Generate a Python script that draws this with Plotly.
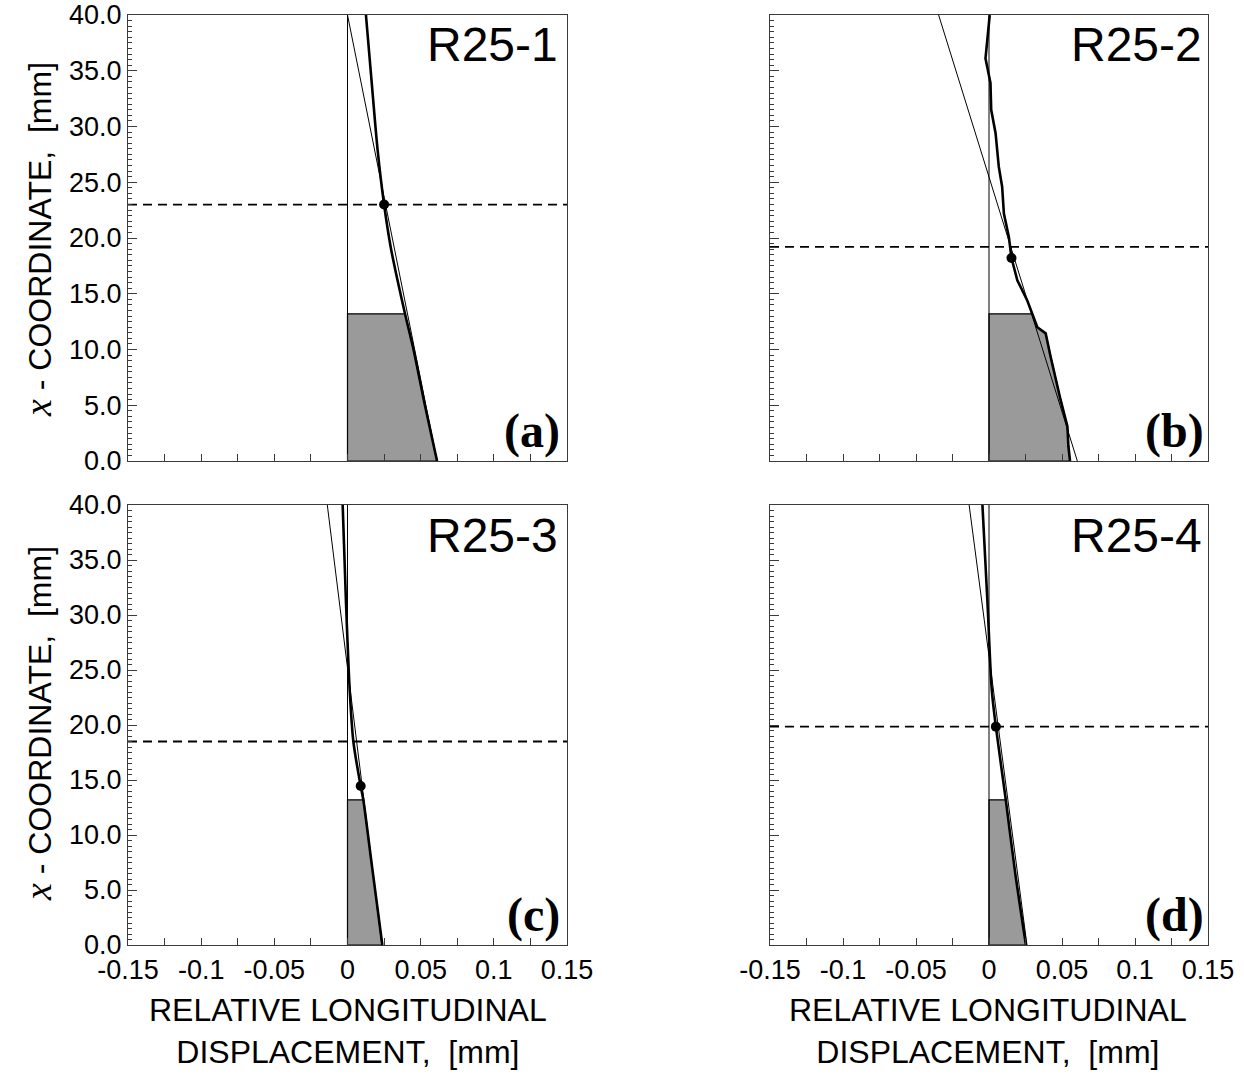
import plotly.graph_objects as go

W, H = 1244, 1075

# ---------------- data ----------------
panel_names = ["R25-1", "R25-2", "R25-3", "R25-4"]
panel_tags = ["(a)", "(b)", "(c)", "(d)"]

# measured relative displacement curves (x = displacement [mm], y = coordinate [mm])
a_curve_x = [0.0612, 0.0529, 0.0451, 0.0393, 0.0337, 0.0295, 0.0250, 0.0205, 0.0165, 0.0126]
a_curve_y = [0.0, 5.0, 10.0, 13.2, 16.5, 19.2, 23.0, 28.0, 34.0, 40.0]
b_curve_x = [0.0555, 0.0544, 0.0537, 0.0490, 0.0422, 0.0388, 0.0331, 0.0297, 0.0262, 0.0194,
             0.0154, 0.0136, 0.0102, 0.0090, 0.0067, 0.0045, 0.0015, 0.0010, -0.0024, 0.0005]
b_curve_y = [0.0, 1.3, 3.1, 5.5, 9.35, 11.45, 12.0, 13.1, 14.4, 16.2,
             18.2, 20.1, 22.2, 24.6, 26.4, 29.4, 31.5, 33.9, 36.1, 40.0]
c_curve_x = [0.0238, 0.0165, 0.0108, 0.0090, 0.0040, 0.0015, -0.0010, -0.0033]
c_curve_y = [0.0, 7.4, 13.2, 14.45, 18.5, 23.2, 31.0, 40.0]
d_curve_x = [0.0253, 0.0180, 0.0115, 0.0047, 0.0019, -0.0010, -0.0045]
d_curve_y = [0.0, 6.5, 13.2, 19.85, 23.2, 31.0, 40.0]

# straight fitted lines (two end points each)
fit_x = [[0.0612, 0.0], [0.0605, -0.0345], [0.0235, -0.0138], [0.0260, -0.0136]]
fit_y = [[0.0, 40.0], [0.0, 40.0], [0.0, 40.0], [0.0, 40.0]]

# dashed horizontal level and marked point
dash_level = [23.0, 19.2, 18.5, 19.85]
dot_x = [0.0250, 0.0154, 0.0090, 0.0047]
dot_y = [23.0, 18.2, 14.45, 19.85]

# shaded zone height
shade_top = 13.2

x_ticks = [-0.15, -0.1, -0.05, 0, 0.05, 0.1, 0.15]
x_tick_text = ["-0.15", "-0.1", "-0.05", "0", "0.05", "0.1", "0.15"]
y_ticks = [0, 5, 10, 15, 20, 25, 30, 35, 40]
y_tick_text = ["0.0", "5.0", "10.0", "15.0", "20.0", "25.0", "30.0", "35.0", "40.0"]

curves = [(a_curve_x, a_curve_y), (b_curve_x, b_curve_y),
          (c_curve_x, c_curve_y), (d_curve_x, d_curve_y)]

# ---------------- layout geometry ----------------
def px(x):
    return x / W

def py(y):
    return 1 - y / H

x_domains = [[px(128), px(567)], [px(770), px(1208)]]
y_domains = [[py(461), py(15)], [py(945), py(505)]]

fig = go.Figure()

SANS = "Liberation Sans, Arial, sans-serif"
SERIF = "Liberation Serif, Times New Roman, serif"

for i in range(4):
    row, col = divmod(i, 2)
    n = i + 1
    xa = "x" if n == 1 else f"x{n}"
    ya = "y" if n == 1 else f"y{n}"
    cx, cy = curves[i]

    # shaded polygon: from axis along the curve up to shade_top
    sx, sy = [0.0], [0.0]
    for xv, yv in zip(cx, cy):
        if yv <= shade_top + 1e-9:
            sx.append(xv)
            sy.append(yv)
    if sy[-1] < shade_top:
        for k in range(len(cy) - 1):
            if cy[k] <= shade_top <= cy[k + 1]:
                t = (shade_top - cy[k]) / (cy[k + 1] - cy[k])
                sx.append(cx[k] + t * (cx[k + 1] - cx[k]))
                sy.append(shade_top)
                break
    sx += [0.0, 0.0]
    sy += [shade_top, 0.0]
    fig.add_trace(go.Scatter(x=sx, y=sy, fill="toself", fillcolor="#9a9a9a",
                             line=dict(color="black", width=1.2), mode="lines",
                             xaxis=xa, yaxis=ya, showlegend=False, hoverinfo="skip"))
    fig.add_trace(go.Scatter(x=[0, 0], y=[0, 40], mode="lines",
                             line=dict(color="black", width=1),
                             xaxis=xa, yaxis=ya, showlegend=False, hoverinfo="skip"))
    fig.add_trace(go.Scatter(x=fit_x[i], y=fit_y[i], mode="lines",
                             line=dict(color="black", width=1),
                             xaxis=xa, yaxis=ya, showlegend=False, hoverinfo="skip"))
    fig.add_trace(go.Scatter(x=cx, y=cy, mode="lines",
                             line=dict(color="black", width=2.6,
                                       shape=("linear" if i == 1 else "spline"),
                                       smoothing=0.8),
                             xaxis=xa, yaxis=ya, showlegend=False, hoverinfo="skip"))
    fig.add_trace(go.Scatter(x=[-0.15, 0.15], y=[dash_level[i]] * 2, mode="lines",
                             line=dict(color="black", width=1.8, dash="9px,6px"),
                             xaxis=xa, yaxis=ya, showlegend=False, hoverinfo="skip"))
    fig.add_trace(go.Scatter(x=[dot_x[i]], y=[dot_y[i]], mode="markers",
                             marker=dict(color="black", size=10),
                             xaxis=xa, yaxis=ya, showlegend=False, hoverinfo="skip"))

    axis_common = dict(showline=True, linecolor="#3a3a3a", linewidth=1.3, mirror=True,
                       showgrid=False, zeroline=False, ticks="inside", automargin=False,
                       tickcolor="#3a3a3a", tickfont=dict(family=SANS, size=27, color="black"))
    xkey = "xaxis" if n == 1 else f"xaxis{n}"
    ykey = "yaxis" if n == 1 else f"yaxis{n}"
    fig.layout[xkey] = dict(axis_common, domain=x_domains[col], anchor=ya, range=[-0.15, 0.15],
                            tickvals=x_ticks, ticktext=x_tick_text, ticklen=7,
                            showticklabels=(row == 1),
                            minor=dict(dtick=0.025, tick0=0, ticklen=7, ticks="inside",
                                       tickcolor="#3a3a3a"))
    fig.layout[ykey] = dict(axis_common, domain=y_domains[row], anchor=xa, range=[0, 40],
                            tickvals=y_ticks, ticktext=y_tick_text, ticklen=9,
                            showticklabels=(col == 0),
                            minor=dict(dtick=0.5, tick0=0, ticklen=4, ticks="inside",
                                       tickcolor="#3a3a3a"))

    right_px = [560, 1204][col]
    top_px = [15, 505][row]
    bot_px = [461, 945][row]
    fig.add_annotation(text=panel_names[i], x=px(right_px), y=py(top_px + 30),
                       xref="paper", yref="paper", xanchor="right", yanchor="middle",
                       showarrow=False, font=dict(family=SANS, size=48, color="black"))
    fig.add_annotation(text="<b>" + panel_tags[i] + "</b>", x=px(right_px + 2), y=py(bot_px - 30),
                       xref="paper", yref="paper", xanchor="right", yanchor="middle",
                       showarrow=False, font=dict(family=SERIF, size=48, color="black"))

# axis titles as annotations
ytitle = ('<span style="font-family:Liberation Serif;font-style:italic;font-size:38px">x</span>'
          ' - COORDINATE,&nbsp; [mm]')
for yc in [240, 724]:
    fig.add_annotation(text=ytitle, x=px(38), y=py(yc), xref="paper", yref="paper",
                       textangle=-90, showarrow=False, xanchor="center", yanchor="middle",
                       font=dict(family=SANS, size=32, color="black"))
for xc in [348, 988]:
    fig.add_annotation(text="RELATIVE LONGITUDINAL<br>DISPLACEMENT,&nbsp; [mm]",
                       x=px(xc), y=py(1031), xref="paper", yref="paper",
                       showarrow=False, xanchor="center", yanchor="middle",
                       font=dict(family=SANS, size=32, color="black"))

fig.update_layout(width=W, height=H, margin=dict(l=0, r=0, t=0, b=0),
                  plot_bgcolor="white", paper_bgcolor="white", showlegend=False)

fig.write_html("out.html")
